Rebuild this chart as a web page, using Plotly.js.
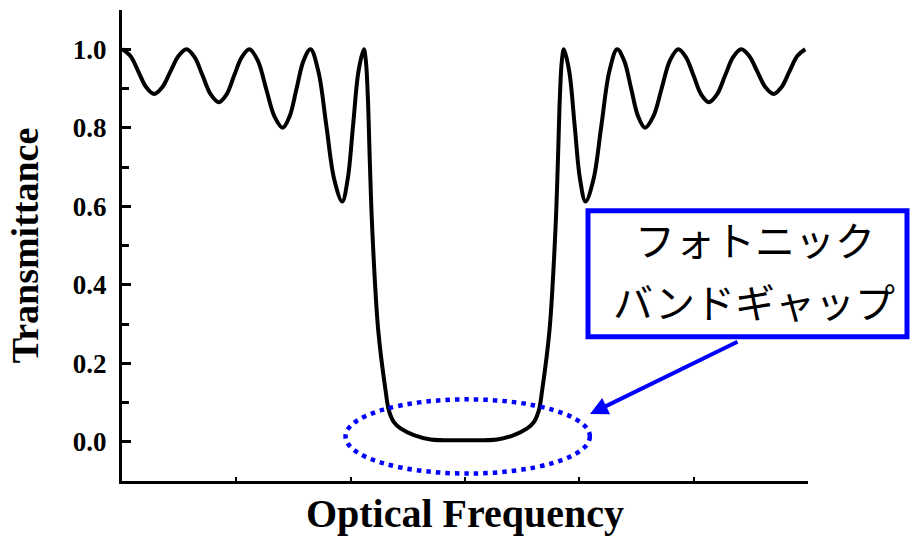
<!DOCTYPE html>
<html>
<head>
<meta charset="utf-8">
<script src="https://cdn.plot.ly/plotly-3.0.1.min.js"></script>
<style>
html,body{margin:0;padding:0;background:#fff;}
#chart{width:911px;height:536px;}
</style>
</head>
<body>
<div id="chart"></div>
<script>
// Optical frequency (arbitrary units, axis 0..6) and transmittance
const frequency = [
  0.000, 0.074, 0.143, 0.212, 0.281, 0.352, 0.423, 0.494, 0.564, 0.635,
  0.705, 0.776, 0.847, 0.915, 0.981, 1.048, 1.115, 1.188, 1.260, 1.333,
  1.406, 1.466, 1.527, 1.588, 1.649, 1.718, 1.787, 1.856, 1.926, 1.974,
  2.021, 2.068, 2.115, 2.133, 2.150, 2.168, 2.189, 2.241, 2.305, 2.334,
  2.378, 2.436, 2.553, 2.699, 2.990,
  3.281, 3.427, 3.544, 3.602, 3.646, 3.675, 3.739, 3.791, 3.812, 3.830,
  3.847, 3.865, 3.912, 3.959, 4.006, 4.054, 4.124, 4.193, 4.262, 4.331,
  4.392, 4.453, 4.514, 4.574, 4.647, 4.720, 4.792, 4.865, 4.932, 4.999,
  5.065, 5.133, 5.204, 5.275, 5.345, 5.416, 5.486, 5.557, 5.628, 5.699,
  5.768, 5.837, 5.906, 5.976
];
const transmittance = [
  1.000, 0.983, 0.943, 0.903, 0.886, 0.903, 0.943, 0.983, 1.000, 0.980,
  0.933, 0.885, 0.865, 0.885, 0.933, 0.980, 1.000, 0.971, 0.900, 0.829,
  0.800, 0.829, 0.900, 0.971, 1.000, 0.943, 0.806, 0.669, 0.612, 0.669,
  0.806, 0.943, 1.000, 0.970, 0.880, 0.710, 0.540, 0.284, 0.131, 0.080,
  0.050, 0.034, 0.017, 0.006, 0.004,
  0.006, 0.017, 0.034, 0.050, 0.080, 0.131, 0.284, 0.540, 0.710, 0.880,
  0.970, 1.000, 0.943, 0.806, 0.669, 0.612, 0.669, 0.806, 0.943, 1.000,
  0.971, 0.900, 0.829, 0.800, 0.829, 0.900, 0.971, 1.000, 0.980, 0.933,
  0.885, 0.865, 0.885, 0.933, 0.980, 1.000, 0.983, 0.943, 0.903, 0.886,
  0.903, 0.943, 0.983, 1.000
];
const yTickValues = [0.0, 0.2, 0.4, 0.6, 0.8, 1.0];
const yTickLabels = ["0.0", "0.2", "0.4", "0.6", "0.8", "1.0"];
const xTitle = "Optical Frequency";
const yTitle = "Transmittance";
const labelLine1 = "フォトニック";
const labelLine2 = "バンドギャップ";

const serif = "'Liberation Serif', 'Times New Roman', serif";
const jp = "'Noto Sans CJK JP', 'Noto Sans', sans-serif";
const blue = "#0000FF";

const trace = {
  x: frequency, y: transmittance, type: "scatter", mode: "lines",
  line: {color: "#000", width: 4, shape: "spline", smoothing: 1},
  hoverinfo: "skip", showlegend: false
};

const layout = {
  width: 911, height: 536,
  margin: {l: 122, r: 103, t: 10, b: 55, pad: 0},
  paper_bgcolor: "#fff", plot_bgcolor: "#fff",
  showlegend: false,
  xaxis: {
    range: [0, 6], dtick: 1, tick0: 0,
    showticklabels: false, ticks: "inside", ticklen: 4, tickwidth: 2, tickcolor: "#000",
    showline: true, linecolor: "#000", linewidth: 3, showgrid: false, zeroline: false,
    title: {text: xTitle, standoff: 18, font: {family: serif, size: 40, weight: "bold", color: "#000"}}
  },
  yaxis: {
    range: [-0.1, 1.1], tickvals: yTickValues, ticktext: yTickLabels,
    ticks: "inside", ticklen: 9, tickwidth: 3, tickcolor: "#000",
    minor: {dtick: 0.1, tick0: 0, ticks: "inside", ticklen: 7, tickwidth: 3, tickcolor: "#000"},
    ticklabelstandoff: 7,
    tickfont: {family: serif, size: 27, weight: "bold", color: "#000"},
    showline: true, linecolor: "#000", linewidth: 3, showgrid: false, zeroline: false,
    title: {text: yTitle, standoff: 23, font: {family: serif, size: 38, weight: "bold", color: "#000"}}
  },
  shapes: [
    {type: "circle", xref: "x", yref: "y", x0: 1.955, x1: 4.092, y0: -0.081, y1: 0.108,
     line: {color: blue, width: 4.5, dash: "4.5px,5px"}},
    {type: "rect", xref: "paper", yref: "paper", x0: 0.6793, x1: 1.1443, y0: 0.3064, y1: 0.5739,
     line: {color: blue, width: 5}, fillcolor: "rgba(0,0,0,0)"}
  ],
  annotations: [
    {xref: "paper", yref: "paper", x: 0.9227, y: 0.5138, text: labelLine1, showarrow: false,
     xanchor: "center", yanchor: "middle", font: {family: jp, size: 40, color: "#000"}},
    {xref: "paper", yref: "paper", x: 0.9213, y: 0.3822, text: labelLine2, showarrow: false,
     xanchor: "center", yanchor: "middle", font: {family: jp, size: 40, color: "#000"}},
    {xref: "paper", yref: "paper", x: 0.6822, y: 0.1423, text: "", showarrow: true,
     ax: 149, ay: -73, arrowhead: 2, arrowsize: 0.9, arrowwidth: 4, arrowcolor: blue, standoff: 0}
  ]
};

Plotly.newPlot("chart", [trace], layout, {staticPlot: true, displayModeBar: false});
</script>
</body>
</html>
